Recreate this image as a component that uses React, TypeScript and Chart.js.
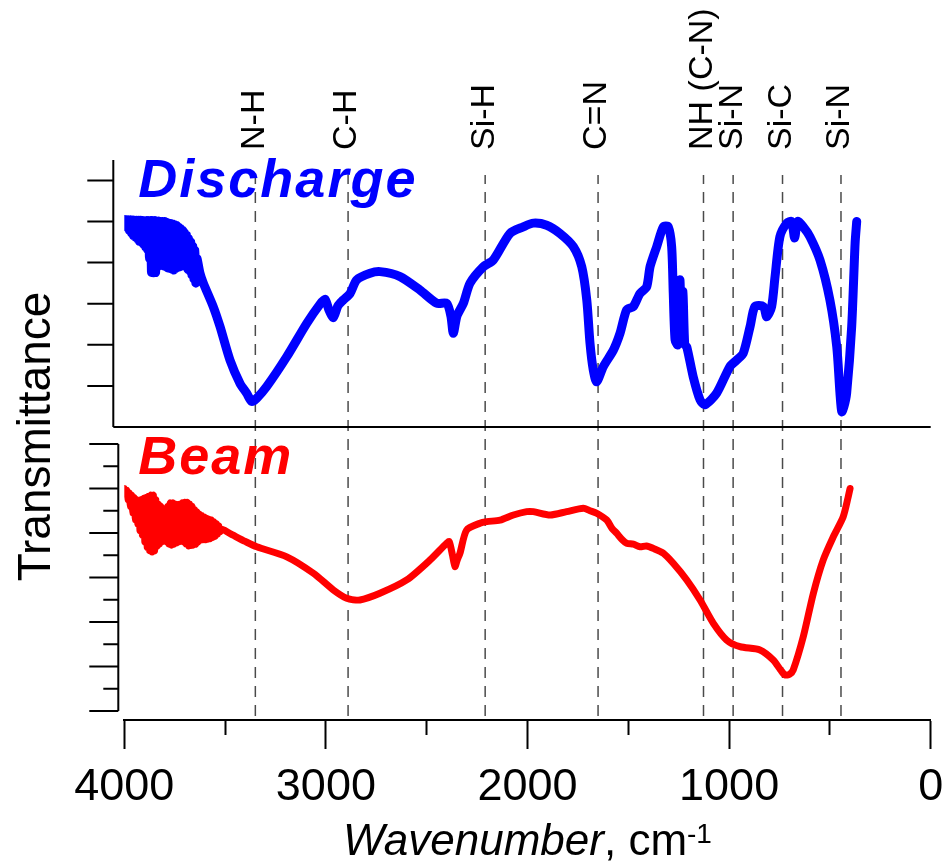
import React, { useEffect, useRef } from 'react';
import { Chart, registerables } from 'chart.js';

Chart.register(...registerables);

// ---------- data ----------
const dischargeWavenumber = [
  4000, 3995, 3990, 3985, 3980, 3975, 3970, 3965, 3960, 3955, 3950, 3945, 3940, 3935, 3930, 3925,
  3920, 3915, 3910, 3905, 3900, 3895, 3890, 3885, 3880, 3875, 3870, 3865, 3860, 3855, 3850, 3845,
  3840, 3835, 3830, 3825, 3820, 3815, 3810, 3805, 3800, 3795, 3790, 3785, 3780, 3775, 3770, 3765,
  3760, 3755, 3750, 3745, 3740, 3735, 3730, 3725, 3720, 3715, 3710, 3705, 3700, 3695, 3690, 3685,
  3680, 3675, 3670, 3665, 3660, 3655, 3650, 3645, 3640,
  3625, 3608, 3559, 3525, 3476, 3426, 3393, 3368, 3343, 3294, 3194, 3095, 3029, 3004, 2985, 2963,
  2940, 2914, 2880, 2847, 2781, 2731, 2632, 2533, 2450, 2401, 2380, 2368, 2350, 2318, 2285, 2219,
  2170, 2087, 2021, 1971, 1905, 1839, 1773, 1731, 1706, 1690, 1674, 1657, 1624, 1574, 1541, 1508,
  1475, 1442, 1409, 1392, 1359, 1326, 1302, 1285, 1277, 1268, 1255, 1244, 1236, 1229, 1220, 1210,
  1178, 1144, 1120, 1062, 996, 962, 930, 896, 872, 830, 813, 789, 772, 748, 714, 690,
  675, 660, 632, 599, 549, 500, 466, 450, 441, 430, 417, 392, 375, 367,
];
const dischargeSignal = [
  5.05, 4.95, 5.04, 4.85, 5.04, 4.78, 5.04, 4.72, 5.03, 4.66, 5.03, 4.62, 5.03, 4.58, 5.03, 4.52,
  5.03, 4.5, 5.02, 4.45, 5.02, 4.38, 5.02, 4.32, 5.02, 4.1, 5.02, 3.76, 5.02, 3.75, 5.02, 3.76,
  5.01, 3.9, 5.01, 4.02, 5.0, 3.98, 5.0, 3.92, 5.0, 3.9, 4.98, 3.87, 4.96, 3.86, 4.95, 3.84,
  4.94, 3.82, 4.92, 3.86, 4.9, 3.88, 4.86, 3.9, 4.82, 3.92, 4.78, 3.94, 4.72, 3.9, 4.66, 3.84,
  4.58, 3.8, 4.5, 3.7, 4.4, 3.6, 4.3, 3.5, 4.1,
  3.75, 3.5, 2.93, 2.44, 1.63, 1.06, 0.82, 0.62, 0.7, 0.98, 1.71, 2.52, 2.99, 3.11, 2.85, 2.66,
  2.95, 3.09, 3.25, 3.58, 3.74, 3.78, 3.66, 3.33, 3.01, 3.01, 2.7, 2.28, 2.7, 3.01, 3.5, 3.9,
  4.06, 4.71, 4.87, 4.96, 4.91, 4.71, 4.39, 3.9, 3.09, 2.04, 1.39, 1.1, 1.47, 1.87, 2.28, 2.85,
  2.93, 3.25, 3.41, 3.9, 4.39, 4.87, 4.87, 4.39, 3.25, 2.12, 2.0, 3.58, 2.2, 3.3, 2.0, 1.95,
  1.22, 0.66, 0.54, 0.82, 1.47, 1.63, 1.79, 2.44, 2.93, 2.93, 2.68, 2.93, 3.66, 4.63, 4.96, 5.0,
  4.6, 5.0, 4.87, 4.63, 4.06, 3.09, 1.95, 0.82, 0.37, 0.5, 0.82, 2.44, 4.47, 5.0,
];

const beamWavenumber = [
  4000, 3994, 3988, 3982, 3976, 3970, 3964, 3958, 3952, 3946, 3940, 3934, 3928, 3922, 3916, 3910,
  3904, 3898, 3892, 3886, 3880, 3874, 3868, 3862, 3856, 3850, 3844, 3838, 3832, 3826, 3820, 3814,
  3808, 3802, 3796, 3790, 3784, 3778, 3772, 3766, 3760, 3754, 3748, 3742, 3736, 3730, 3724, 3718,
  3712, 3706, 3700, 3694, 3688, 3682, 3676, 3670, 3664, 3658, 3652, 3646, 3640, 3634, 3628, 3622,
  3616, 3610, 3604, 3598, 3592, 3586, 3580, 3574, 3568, 3562, 3556, 3550, 3544, 3538, 3532, 3526,
  3515, 3460, 3400, 3343, 3194, 3062, 2963, 2897, 2831, 2732, 2599, 2483, 2401, 2388, 2372, 2360,
  2348, 2335, 2302, 2236, 2202, 2136, 2070, 2004, 1971, 1888, 1806, 1723, 1690, 1657, 1607, 1580,
  1558, 1530, 1508, 1475, 1442, 1410, 1376, 1326, 1277, 1210, 1144, 1078, 1012, 946, 847, 781,
  745, 723, 700, 682, 632, 582, 533, 483, 434, 409, 400,
];
const beamSignal = [
  10.0, 9.8, 9.92, 9.5, 9.8, 9.2, 9.7, 8.9, 9.6, 8.6, 9.5, 8.4, 9.45, 8.1, 9.5, 7.9,
  9.55, 7.6, 9.6, 7.35, 9.65, 7.2, 9.7, 7.15, 9.7, 7.2, 9.5, 7.4, 9.3, 7.5, 9.2, 7.6,
  9.1, 7.7, 9.05, 7.6, 9.2, 7.5, 9.35, 7.45, 9.35, 7.5, 9.3, 7.55, 9.28, 7.6, 9.3, 7.68,
  9.35, 7.6, 9.38, 7.5, 9.38, 7.42, 9.3, 7.44, 9.2, 7.46, 9.05, 7.5, 8.95, 7.6, 8.85, 7.68,
  8.78, 7.7, 8.72, 7.7, 8.66, 7.72, 8.62, 7.75, 8.58, 7.8, 8.5, 7.85, 8.42, 7.95, 8.32, 8.05,
  8.16, 7.9, 7.62, 7.38, 6.93, 6.19, 5.44, 5.07, 4.99, 5.29, 5.89, 6.79, 7.54, 7.61, 7.0, 6.49,
  6.8, 7.09, 8.13, 8.44, 8.51, 8.58, 8.81, 8.96, 8.96, 8.81, 8.96, 9.11, 9.0, 8.89, 8.58, 8.2,
  7.99, 7.7, 7.54, 7.5, 7.38, 7.42, 7.31, 7.09, 6.64, 5.89, 4.99, 3.94, 3.19, 2.89, 2.74, 2.29,
  1.85, 1.62, 1.65, 1.84, 3.34, 5.29, 6.79, 7.83, 8.73, 9.63, 10.0,
];

const bandLabels = ['N-H', 'C-H', 'Si-H', 'C=N', 'NH (C-N)', 'Si-N', 'Si-C', 'Si-N'];
const bandWavenumber = [3350, 2890, 2210, 1650, 1127, 980, 735, 445];

const panelNames = ['Discharge', 'Beam'];
const yTitle = 'Transmittance';
const xTitleItalic = 'Wavenumber';
const xTitleRegular = ', cm';
const xTitleSup = '-1';

const X_MIN = 0;
const X_MAX = 4000;
const X_STEP = 500;
const X_LABEL_STEP = 1000;
const TOP_TICKS = [1, 2, 3, 4, 5, 6];
const BOTTOM_TICKS = [0, 1, 2, 3, 4, 5, 6, 7, 8, 9, 10, 11, 12];

// ---------- style ----------
const FONT = '"Liberation Sans", Arial, Helvetica, sans-serif';
const BLUE = '#0000ff';
const RED = '#ff0000';

const decorPlugin = {
  id: 'decor',
  afterDraw(chart: any) {
    const ctx = chart.ctx as CanvasRenderingContext2D;
    const xs = chart.scales.x;
    const yT = chart.scales.yTop;
    const yB = chart.scales.yBot;
    const area = chart.chartArea;
    ctx.save();
    ctx.strokeStyle = '#000';
    ctx.lineWidth = 2;
    ctx.lineCap = 'butt';

    // top panel: left axis + ticks + bottom line
    const topAxisX = xs.left - 11;
    const topTopY = yT.getPixelForValue(yT.max);
    const topBotY = yT.getPixelForValue(0);
    ctx.beginPath();
    ctx.moveTo(topAxisX, topTopY);
    ctx.lineTo(topAxisX, topBotY);
    ctx.moveTo(topAxisX, topBotY);
    ctx.lineTo(xs.right, topBotY);
    TOP_TICKS.forEach((t) => {
      const py = yT.getPixelForValue(t);
      ctx.moveTo(topAxisX - 26, py);
      ctx.lineTo(topAxisX, py);
    });
    ctx.stroke();

    // bottom panel: left axis + ticks
    const botAxisX = xs.left - 6;
    ctx.beginPath();
    ctx.moveTo(botAxisX, yB.getPixelForValue(12));
    ctx.lineTo(botAxisX, yB.getPixelForValue(0));
    BOTTOM_TICKS.forEach((t) => {
      const py = yB.getPixelForValue(t);
      const len = t % 2 === 0 ? 29 : 15;
      ctx.moveTo(botAxisX - len, py);
      ctx.lineTo(botAxisX, py);
    });
    ctx.stroke();

    // band labels
    ctx.fillStyle = '#000';
    ctx.font = `34px ${FONT}`;
    ctx.textAlign = 'left';
    ctx.textBaseline = 'middle';
    bandLabels.forEach((lab, i) => {
      const px = xs.getPixelForValue(bandWavenumber[i]);
      ctx.save();
      ctx.translate(px - 1, area.top - 10);
      ctx.rotate(-Math.PI / 2);
      ctx.fillText(lab, 0, 0);
      ctx.restore();
    });

    // panel names
    ctx.textBaseline = 'alphabetic';
    ctx.font = `italic bold 54px ${FONT}`;
    (ctx as any).letterSpacing = '2px';
    ctx.fillStyle = BLUE;
    ctx.fillText(panelNames[0], xs.left + 14, area.top + 37);
    ctx.fillStyle = RED;
    ctx.fillText(panelNames[1], xs.left + 14, area.top + 314);
    (ctx as any).letterSpacing = '0px';

    // y title
    ctx.fillStyle = '#000';
    ctx.font = `46px ${FONT}`;
    ctx.textAlign = 'center';
    ctx.save();
    ctx.translate(50, (area.top + yB.getPixelForValue(0)) / 2 + 1);
    ctx.rotate(-Math.PI / 2);
    ctx.fillText(yTitle, 0, 0);
    ctx.restore();

    // x title
    ctx.textAlign = 'left';
    ctx.font = `italic 44px ${FONT}`;
    const w1 = ctx.measureText(xTitleItalic).width;
    ctx.font = `44px ${FONT}`;
    const w2 = ctx.measureText(xTitleRegular).width;
    ctx.font = `28px ${FONT}`;
    const w3 = ctx.measureText(xTitleSup).width;
    let sx = xs.getPixelForValue(2000) - (w1 + w2 + w3) / 2;
    const by = area.bottom + 135;
    ctx.font = `italic 44px ${FONT}`;
    ctx.fillText(xTitleItalic, sx, by);
    sx += w1;
    ctx.font = `44px ${FONT}`;
    ctx.fillText(xTitleRegular, sx, by);
    sx += w2;
    ctx.font = `28px ${FONT}`;
    ctx.fillText(xTitleSup, sx, by - 12);

    ctx.restore();
  },
};

export default function App() {
  const canvasRef = useRef<HTMLCanvasElement | null>(null);

  useEffect(() => {
    if (!canvasRef.current) return;
    const dashTop = 24.09;
    const dashBottom = -0.22;

    const curveSets = [
      {
        label: panelNames[0],
        data: dischargeWavenumber.map((w, i) => ({ x: w, y: dischargeSignal[i] })),
        yAxisID: 'yTop',
        borderColor: BLUE,
        borderWidth: 9,
        pointRadius: 0,
        tension: 0.25,
        borderCapStyle: 'round',
        borderJoinStyle: 'round',
        order: 0,
      },
      {
        label: panelNames[1],
        data: beamWavenumber.map((w, i) => ({ x: w, y: beamSignal[i] })),
        yAxisID: 'yBot',
        borderColor: RED,
        borderWidth: 7,
        pointRadius: 0,
        tension: 0.25,
        borderCapStyle: 'round',
        borderJoinStyle: 'round',
        order: 0,
      },
    ];
    const dashSets = bandWavenumber.map((w, i) => ({
      label: bandLabels[i],
      data: [
        { x: w, y: dashBottom },
        { x: w, y: dashTop },
      ],
      yAxisID: 'yBot',
      borderColor: '#4a4a4a',
      borderWidth: 1.5,
      borderDash: [11, 8],
      pointRadius: 0,
      tension: 0,
      order: 5,
    }));

    const chart = new Chart(canvasRef.current, {
      type: 'line',
      data: { datasets: [...curveSets, ...dashSets] as any },
      options: {
        responsive: false,
        animation: false,
        devicePixelRatio: 1,
        layout: { padding: { top: 160, left: 124.3, right: 12.3, bottom: 0 } },
        plugins: { legend: { display: false }, tooltip: { enabled: false } },
        scales: {
          x: {
            type: 'linear',
            reverse: true,
            min: X_MIN,
            max: X_MAX,
            ticks: {
              stepSize: X_STEP,
              autoSkip: false,
              maxRotation: 0,
              minRotation: 0,
              padding: 12,
              color: '#000',
              font: { family: FONT, size: 45 },
              callback: (v: any) => (Number(v) % X_LABEL_STEP === 0 ? String(v) : ''),
            },
            grid: {
              drawOnChartArea: false,
              drawTicks: true,
              tickLength: 29,
              tickWidth: 2,
              tickColor: '#000',
              tickBorderDash: (c: any) =>
                c.tick && Number(c.tick.value) % X_LABEL_STEP !== 0 ? [14, 200] : [],
            } as any,
            border: { display: true, color: '#000', width: 2 },
            afterFit: (s: any) => {
              s.height = 145;
              s.paddingLeft = 0;
              s.paddingRight = 0;
            },
          },
          yTop: {
            type: 'linear',
            display: false,
            min: -7.129,
            max: 6.496,
          },
          yBot: {
            type: 'linear',
            display: false,
            min: -0.4045,
            max: 24.764,
          },
        },
      } as any,
      plugins: [decorPlugin],
    });
    return () => chart.destroy();
  }, []);

  return (
    <div style={{ position: 'fixed', left: 0, top: 0, width: 943, height: 865, background: '#fff' }}>
      <canvas ref={canvasRef} width={943} height={865} style={{ width: 943, height: 865, display: 'block' }} />
    </div>
  );
}
